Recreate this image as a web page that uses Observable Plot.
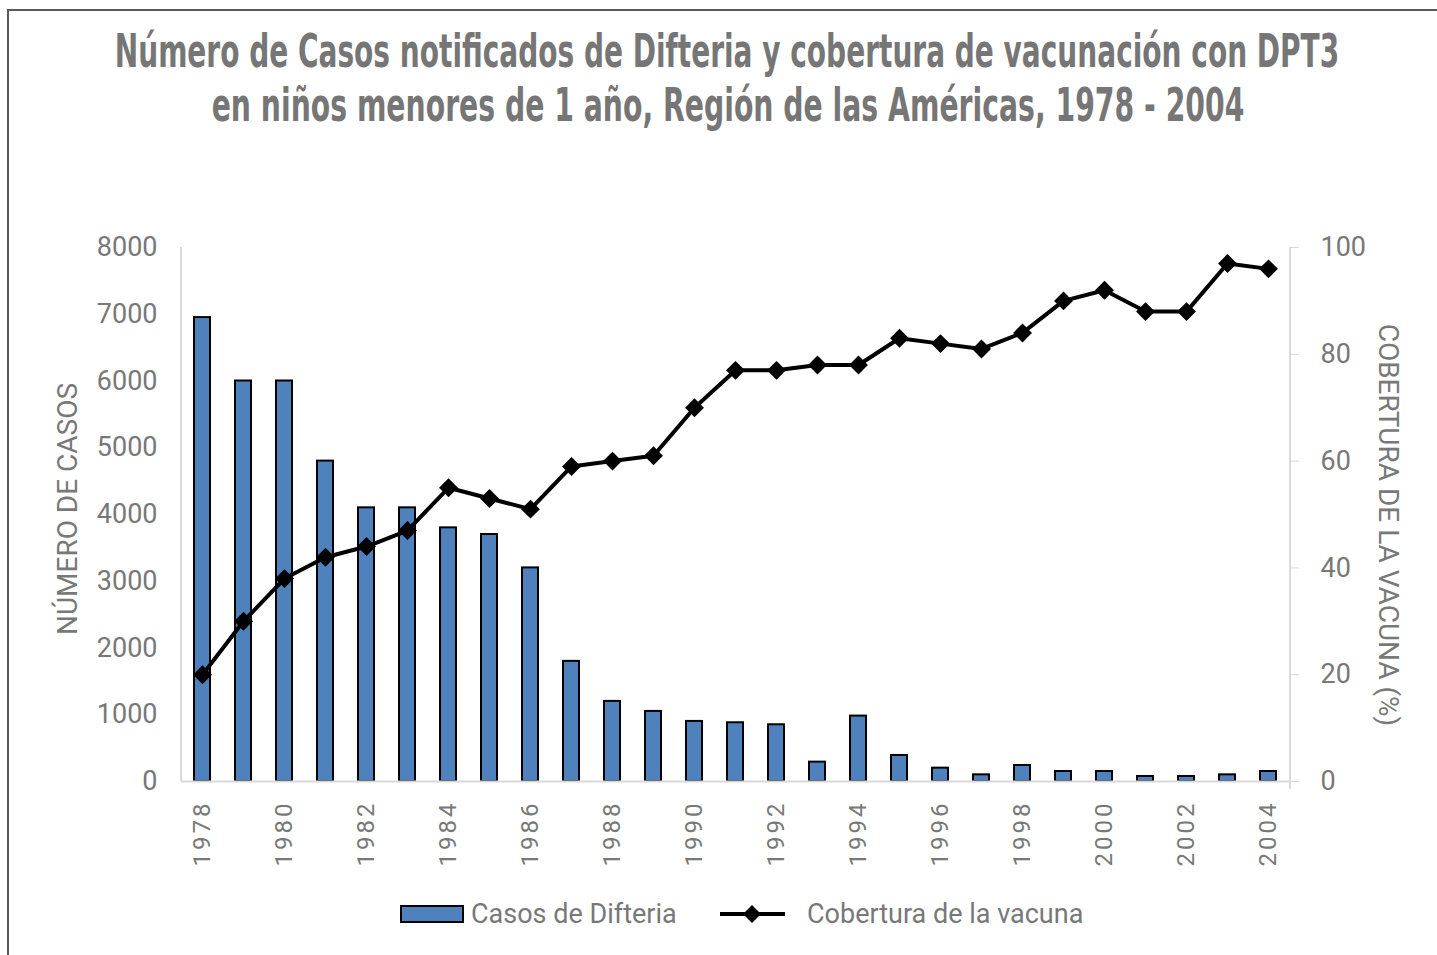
<!DOCTYPE html>
<html>
<head>
<meta charset="utf-8">
<script src="https://cdn.jsdelivr.net/npm/d3@7"></script>
<script src="https://cdn.jsdelivr.net/npm/@observablehq/plot@0.6"></script>
<style>
  html, body { margin: 0; padding: 0; background: #fff; width: 1437px; height: 955px; overflow: hidden; }
  #chart { position: absolute; left: 0; top: 160px; }
  #overlay { position: absolute; left: 0; top: 0; pointer-events: none; }
  .t { font-family: "Liberation Sans Narrow", "DejaVu Sans Condensed", sans-serif; font-weight: bold; fill: #767676; }
  .lab { font-family: Roboto, "Noto Sans", sans-serif; fill: #787878; }
</style>
</head>
<body>
<div id="chart"></div>
<svg id="overlay" width="1437" height="955" xmlns="http://www.w3.org/2000/svg">
  <path d="M8,955 V10 H1437" fill="none" stroke="#595959" stroke-width="2"/>
  <text id="t1" class="t" x="0" y="0" font-size="46" text-anchor="middle" data-x="727" data-y="67" data-w="1225">Número de Casos notificados de Difteria y cobertura de vacunación con DPT3</text>
  <text id="t2" class="t" x="0" y="0" font-size="46" text-anchor="middle" data-x="728" data-y="121" data-w="1033">en niños menores de 1 año, Región de las Américas, 1978 - 2004</text>
  <text class="lab" font-size="28" text-anchor="middle" dominant-baseline="central" transform="translate(67,509) rotate(-90)">NÚMERO DE CASOS</text>
  <text class="lab" font-size="28" text-anchor="middle" dominant-baseline="central" transform="translate(1388,525) rotate(90)">COBERTURA DE LA VACUNA (%)</text>
  <rect x="401" y="906" width="62" height="16" fill="#4f81bd" stroke="#000" stroke-width="2"/>
  <text class="lab" x="471" y="914" font-size="27" dominant-baseline="central">Casos de Difteria</text>
  <line x1="720" y1="914" x2="785" y2="914" stroke="#000" stroke-width="4"/>
  <path d="M752,905 L761,914 L752,923 L743,914 Z" fill="#000"/>
  <text class="lab" x="807" y="914" font-size="27" dominant-baseline="central">Cobertura de la vacuna</text>
</svg>
<script>
const years = [1978,1979,1980,1981,1982,1983,1984,1985,1986,1987,1988,1989,1990,1991,1992,1993,1994,1995,1996,1997,1998,1999,2000,2001,2002,2003,2004];
const cases = [6950,6000,6000,4800,4100,4100,3800,3700,3200,1800,1200,1050,900,880,850,290,980,390,200,100,240,150,150,75,75,100,150];
const coverage = [20,30,38,42,44,47,55,53,51,59,60,61,70,77,77,78,78,83,82,81,84,90,92,88,88,97,96];
const leftTicks = [0,1000,2000,3000,4000,5000,6000,7000,8000];
const rightTicks = [0,20,40,60,80,100];
const xTickYears = [1978,1980,1982,1984,1986,1988,1990,1992,1994,1996,1998,2000,2002,2004];

const data = years.map((y, i) => ({year: y, cases: cases[i], cov: coverage[i]}));
const k = 8000 / 100;

const plot = Plot.plot({
  width: 1437,
  height: 720,
  marginTop: 87,
  marginBottom: 99,
  marginLeft: 181,
  marginRight: 147,
  style: {fontFamily: "Roboto, 'Noto Sans', sans-serif", fontSize: "27px", color: "#787878", background: "transparent"},
  x: {type: "band", domain: years, paddingInner: 0.6, paddingOuter: 0.3, axis: null},
  y: {domain: [0, 8000], axis: null},
  marks: [
    Plot.barY(data, {x: "year", y: "cases", fill: "#4f81bd", stroke: "#000", strokeWidth: 2}),
    Plot.ruleY([0], {stroke: "#d9d9d9", strokeWidth: 2}),
    Plot.line(data, {x: "year", y: d => d.cov * k, stroke: "#000", strokeWidth: 4}),
    Plot.dot(data, {x: "year", y: d => d.cov * k, symbol: "diamond2", r: 8.5, fill: "#000", stroke: "none"}),
    Plot.axisY({ticks: leftTicks, tickSize: 0, tickPadding: 24, label: null, tickFormat: d => String(d)}),
    Plot.axisY({anchor: "right", ticks: rightTicks.map(v => v * k), tickFormat: v => String(Math.round(v / k)), tickSize: 8, tickPadding: 22, label: null, stroke: "#d9d9d9"}),
    Plot.axisX({ticks: xTickYears, tickSize: 0, tickRotate: -90, tickPadding: 19, label: null, tickFormat: d => String(d)})
  ]
});
document.getElementById("chart").appendChild(plot);

// axis lines (left, right)
const svg = d3.select(plot);
const x0 = 181, x1 = 1437 - 147, y0 = 87, y1 = 720 - 99;
svg.append("line").attr("x1", x0).attr("x2", x0).attr("y1", y0).attr("y2", y1).attr("stroke", "#d9d9d9").attr("stroke-width", 2);
svg.append("line").attr("x1", x1).attr("x2", x1).attr("y1", y0).attr("y2", y1 + 8).attr("stroke", "#d9d9d9").attr("stroke-width", 2);
svg.selectAll('g[aria-label="x-axis tick label"] text').style("font-size", "24px").style("letter-spacing", "3px");

// fit title widths with a horizontal scale
for (const id of ["t1", "t2"]) {
  const el = document.getElementById(id);
  const target = +el.getAttribute("data-w");
  const w = el.getComputedTextLength();
  const sx = target / w;
  el.setAttribute("transform", `translate(${el.getAttribute("data-x")},${el.getAttribute("data-y")}) scale(${sx},1)`);
}
</script>
</body>
</html>
